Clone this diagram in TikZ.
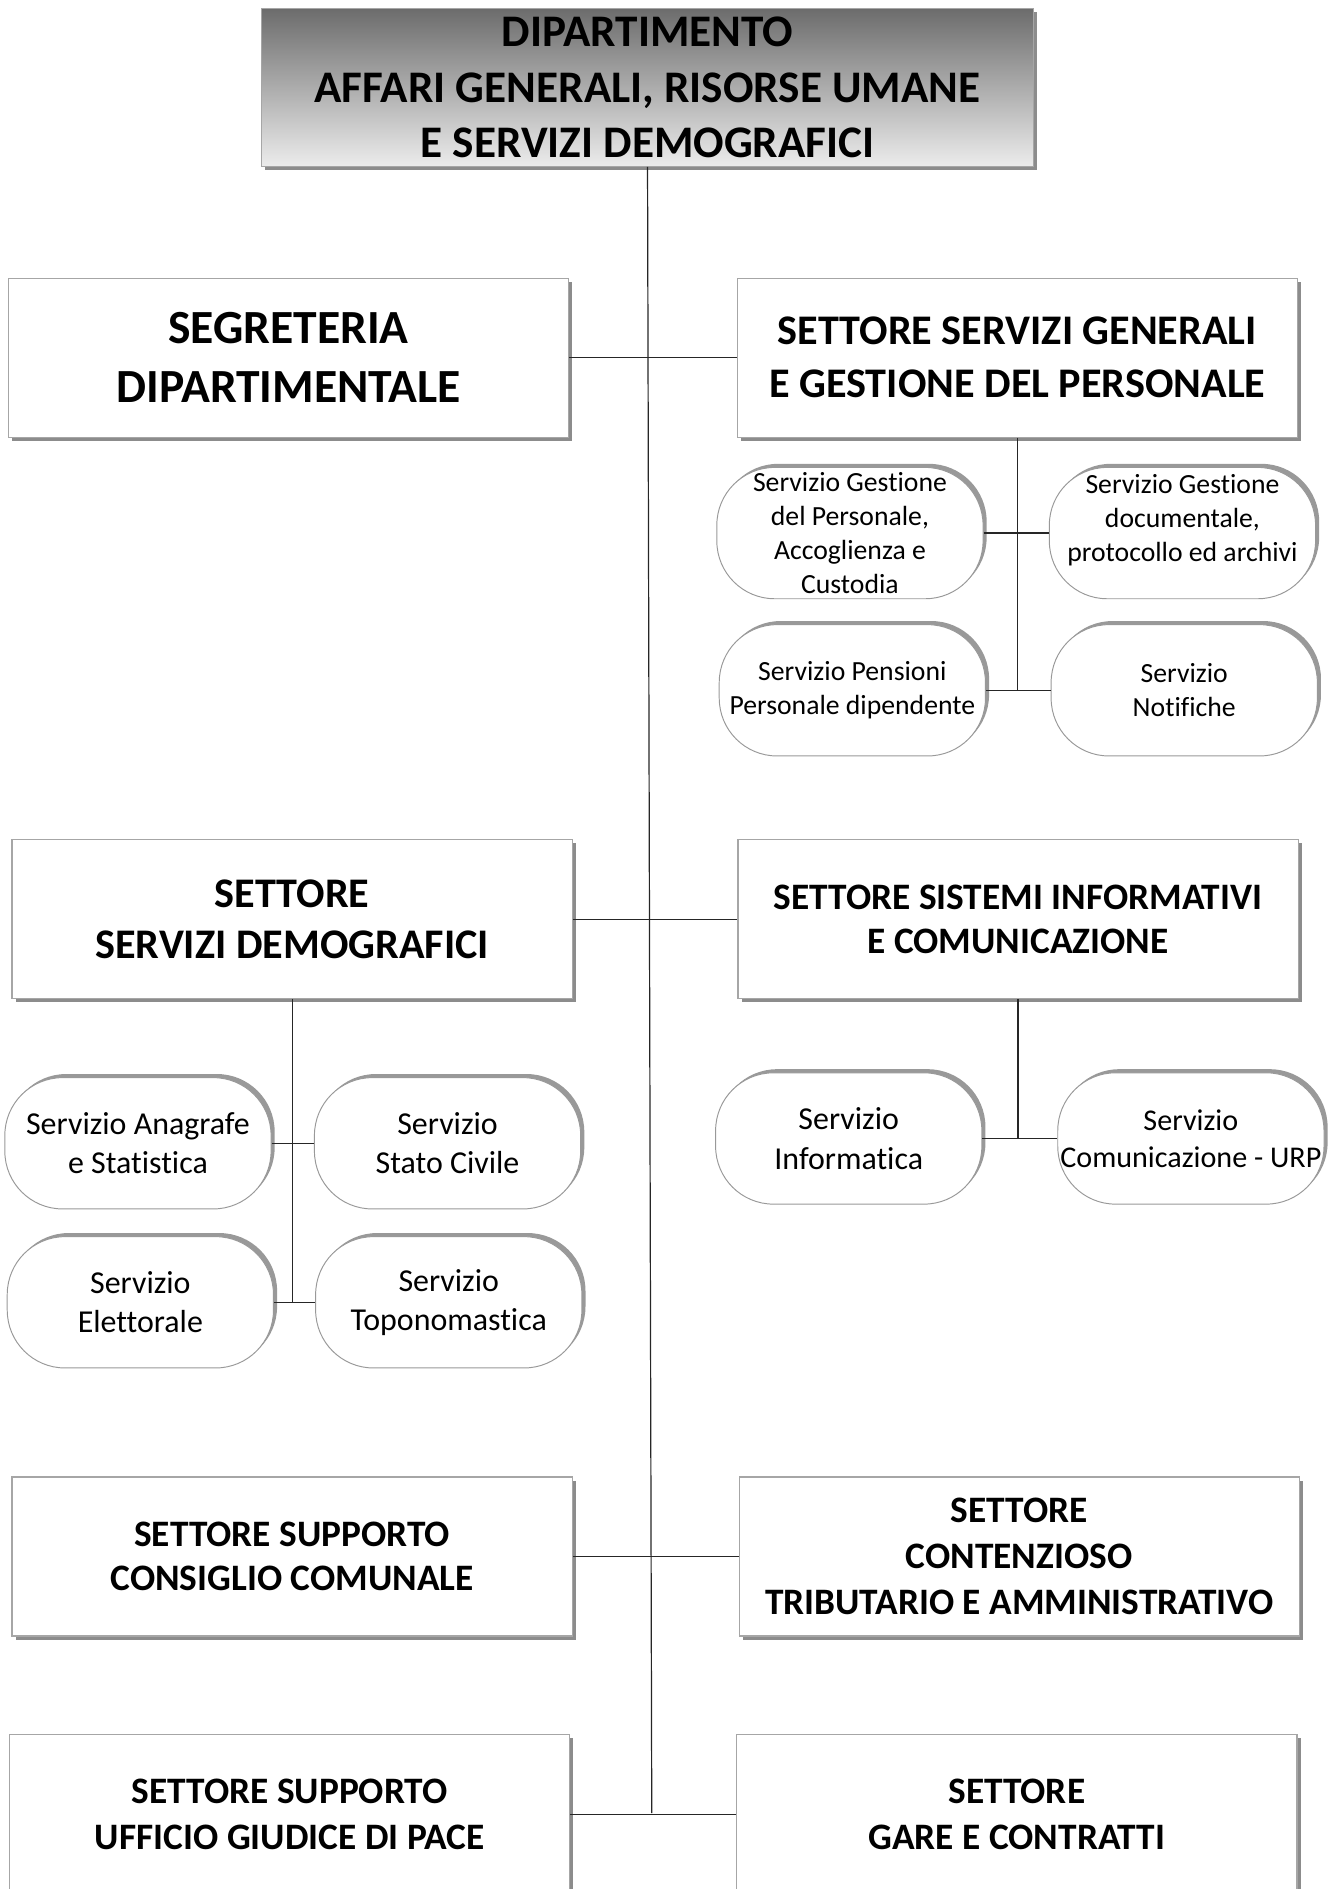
\documentclass[tikz,border=0pt]{standalone}
\usepackage{fontspec}
\setmainfont{Carlito}[Ligatures=NoCommon]
\usetikzlibrary{shadows}
\definecolor{topdark}{RGB}{108,108,108}
\definecolor{toplight}{RGB}{236,236,236}
\newcommand{\fs}[2]{\fontsize{#1}{#2}\selectfont}
\tikzset{
	settore/.style={draw=gray!70, fill=white, line width=1pt, minimum width=465pt, minimum height=132pt, align=center,
		drop shadow={shadow xshift=3pt, shadow yshift=-3pt, fill=gray!90, opacity=1}},
	servizio/.style={draw=gray!80, fill=white, line width=0.8pt, rounded corners=48pt, minimum width=221pt, minimum height=109pt, align=center, inner sep=0pt,
		drop shadow={shadow xshift=3pt, shadow yshift=3pt, fill=gray!80, opacity=1}},
	link/.style={draw=black!85, line width=1pt}
}
\begin{document}
\begin{tikzpicture}[x=1pt,y=-1pt]
	\useasboundingbox (0,0) rectangle (1107,1568);
	% dipartimento
	\node[draw=gray!70, line width=1pt, top color=topdark, bottom color=toplight, minimum width=641pt, minimum height=131pt, align=center,
		font=\bfseries\fs{37.5}{46}, drop shadow={shadow xshift=3pt, shadow yshift=-3pt, fill=gray!90, opacity=1}] (dip) at (537.5,72.5)
		{DIPARTIMENTO\\AFFARI GENERALI, RISORSE UMANE\\E SERVIZI DEMOGRAFICI};
	% settori
	\node[settore, font=\bfseries\fs{39.5}{49}] (segr) at (239.5,297) {SEGRETERIA\\DIPARTIMENTALE};
	\node[settore, font=\bfseries\fs{35}{44}] (gen) at (844.5,297) {SETTORE SERVIZI GENERALI\\E GESTIONE DEL PERSONALE};
	\node[settore, font=\bfseries\fs{35}{42}] (demo) at (242.5,763) {SETTORE\\SERVIZI DEMOGRAFICI};
	\node[settore, font=\bfseries\fs{31}{37}] (info) at (845,763) {SETTORE SISTEMI INFORMATIVI\\E COMUNICAZIONE};
	\node[settore, font=\bfseries\fs{31}{37}] (cons) at (242.5,1292) {SETTORE SUPPORTO\\CONSIGLIO COMUNALE};
	\node[settore, font=\bfseries\fs{31}{38}] (cont) at (846,1292) {SETTORE\\CONTENZIOSO\\TRIBUTARIO E AMMINISTRATIVO};
	\node[settore, font=\bfseries\fs{31}{38}] (pace) at (240.5,1506) {SETTORE SUPPORTO\\UFFICIO GIUDICE DI PACE};
	\node[settore, font=\bfseries\fs{31}{38}] (gare) at (844,1506) {SETTORE\\GARE E CONTRATTI};
	% servizi generali
	\node[servizio, font=\fs{23}{28}] (pers) at (705.5,442.5) {Servizio Gestione\\del Personale,\\Accoglienza e\\Custodia};
	\node[servizio, font=\fs{23}{28}] (doc) at (981.5,442.5) {Servizio Gestione\\documentale,\\protocollo ed archivi\\[-3pt]};
	\node[servizio, font=\fs{23}{28}] (pens) at (707.5,573) {Servizio Pensioni\\Personale dipendente};
	\node[servizio, font=\fs{23}{28}] (not) at (983,573) {Servizio\\Notifiche};
	% servizi demografici
	\node[servizio, font=\fs{26.5}{32}] (anag) at (114.5,949) {Servizio Anagrafe\\e Statistica};
	\node[servizio, font=\fs{26.5}{32}] (stato) at (371.5,949) {Servizio\\Stato Civile};
	\node[servizio, font=\fs{26.5}{32}] (elet) at (116.5,1081) {Servizio\\Elettorale};
	\node[servizio, font=\fs{26.5}{32}] (topo) at (372.5,1081) {Servizio\\Toponomastica};
	% servizi informativi
	\node[servizio, font=\fs{26.5}{33}] (infor) at (704.5,945) {Servizio\\Informatica};
	\node[servizio, font=\fs{25}{31}] (urp) at (988.5,945) {Servizio\\Comunicazione - URP};
	% linee
	\coordinate (fondo) at (541,1505);
	\draw[link] (dip.south) -- (fondo);
	\draw[link] (segr.east) -- (gen.west);
	\draw[link] (demo.east) -- (info.west);
	\draw[link] (cons.east) -- (cont.west);
	\draw[link] (pace.east) -- (gare.west);
	\draw[link] (gen.south) -- (gen.south |- pens.east);
	\draw[link] (pers.east) -- (doc.west);
	\draw[link] (pens.east) -- (not.west);
	\draw[link] (demo.south) -- (demo.south |- elet.east);
	\draw[link] (anag.east) -- (stato.west);
	\draw[link] (elet.east) -- (topo.west);
	\draw[link] (info.south) -- (info.south |- infor.east);
	\draw[link] (infor.east) -- (urp.west);
\end{tikzpicture}
\end{document}
